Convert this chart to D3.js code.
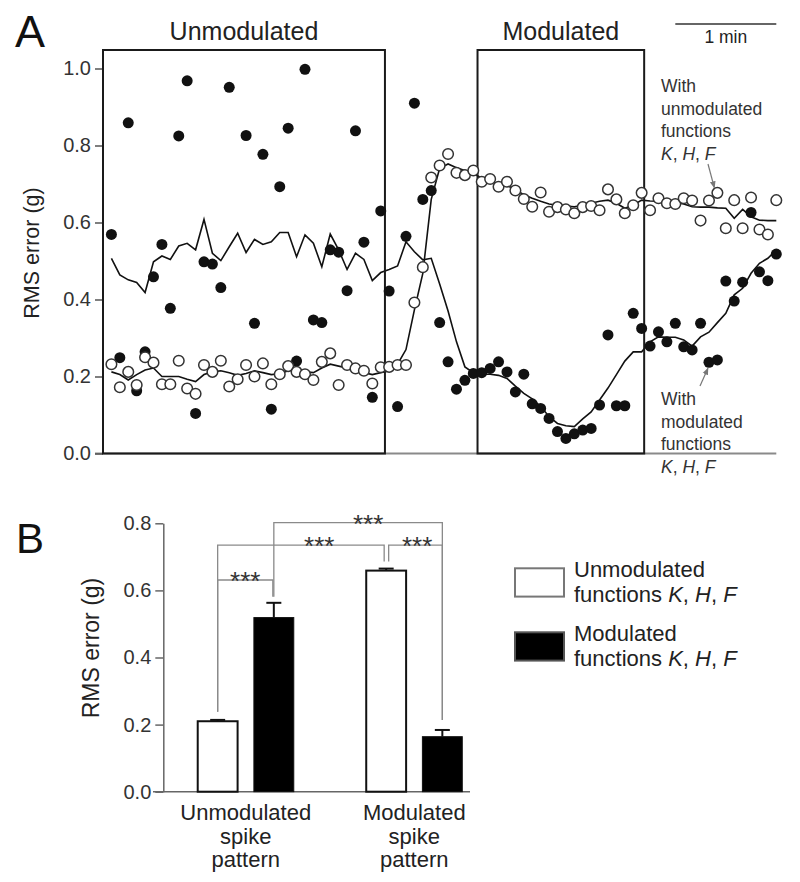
<!DOCTYPE html>
<html><head><meta charset="utf-8">
<script src="https://cdn.jsdelivr.net/npm/d3@7"></script>
<style>
body{margin:0;background:#fff;}
svg{display:block;font-family:"Liberation Sans",Arial,sans-serif;}
</style></head>
<body><svg id="c" width="800" height="882"></svg>
<script>
// ---------- Panel A data (samples every 5 s, i = 1..80) ----------
const sampleSec = 5;
const openPts = [0.232,0.172,0.212,0.178,0.250,0.236,0.180,0.180,0.241,0.169,
 0.155,0.230,0.212,0.241,0.174,0.193,0.230,0.200,0.234,0.180,
 0.206,0.227,0.212,0.206,0.191,0.238,0.260,0.178,0.230,0.221,
 0.215,0.182,0.224,0.225,0.230,0.230,0.392,0.484,0.717,0.748,
 0.778,0.729,0.723,0.735,0.706,0.713,0.693,0.706,0.683,0.661,
 0.641,0.678,0.628,0.640,0.634,0.624,0.640,0.643,0.632,0.686,
 0.660,0.624,0.645,0.677,0.632,0.663,0.650,0.648,0.663,0.657,
 0.605,0.657,0.677,0.585,0.658,0.585,0.665,0.582,0.569,0.658];
const filledPts = [0.569,0.249,0.859,0.163,0.264,0.459,0.543,0.377,0.825,0.968,
 0.104,0.498,0.492,0.431,0.951,null,0.826,0.338,0.777,0.115,
 0.693,0.845,0.240,0.998,0.347,0.340,0.529,0.523,0.423,0.838,
 0.549,0.146,0.630,0.422,0.122,0.564,0.910,0.660,0.683,0.340,
 0.238,0.167,0.190,0.208,0.210,0.221,0.238,0.212,0.160,0.206,
 0.129,0.117,0.091,0.057,0.039,0.051,0.061,0.065,0.126,0.308,
 0.124,0.124,0.364,0.325,0.279,0.316,0.290,0.338,0.277,0.269,
 0.338,0.237,0.243,0.448,0.396,0.445,0.626,0.472,0.449,0.518];
const openLine = [0.212,0.205,0.191,0.205,0.217,0.222,0.200,0.200,0.200,0.193,
 0.187,0.205,0.212,0.215,0.210,0.203,0.208,0.215,0.210,0.205,
 0.207,0.215,0.222,0.212,0.210,0.222,0.232,0.227,0.222,0.217,
 0.210,0.205,0.210,0.215,0.232,0.270,0.373,0.468,0.660,0.741,
 0.752,0.742,0.735,0.728,0.715,0.708,0.700,0.697,0.685,0.672,
 0.663,0.655,0.648,0.645,0.643,0.641,0.645,0.650,0.655,0.658,
 0.650,0.637,0.645,0.658,0.656,0.655,0.654,0.652,0.648,0.641,
 0.640,0.640,0.638,0.637,0.611,0.634,0.615,0.606,0.605,0.605];
const filledLine = [0.507,0.464,0.451,0.444,0.418,0.498,0.513,0.504,0.539,0.546,
 0.529,0.608,0.520,0.501,0.537,0.572,0.522,0.556,0.543,0.550,
 0.574,0.574,0.511,0.568,0.546,0.485,0.570,0.529,0.478,0.520,
 0.504,0.449,0.470,0.478,0.487,0.550,0.524,0.503,0.507,0.440,
 0.370,0.290,0.225,0.210,0.206,0.206,0.203,0.195,0.175,0.156,
 0.142,0.122,0.096,0.078,0.072,0.070,0.090,0.108,0.139,0.170,
 0.205,0.240,0.264,0.264,0.290,0.303,0.302,0.302,0.295,0.279,
 0.303,0.315,0.340,0.364,0.412,0.429,0.468,0.494,0.507,0.529];
const periods = [{label:"Unmodulated", start:0, end:167.5},{label:"Modulated", start:222.5, end:321.5}];
const scaleBarSec = [340, 400];
const yTicksA = [0,0.2,0.4,0.6,0.8,1.0];

// ---------- Panel B data ----------
const spikeCats = [["Unmodulated","spike","pattern"],["Modulated","spike","pattern"]];
const funcSeries = ["Unmodulated functions", "Modulated functions"];
const barMeans = [[0.210, 0.519],[0.659, 0.164]];
const barErrs  = [[0.004, 0.044],[0.006, 0.020]];
const yTicksB = [0,0.2,0.4,0.6,0.8];
const brackets = [
  {a:[0,0], b:[0,1], level:0.631, fa:0.238, fb:0.581, pos:0.5, dxa:0, dxb:-1},
  {a:[0,0], b:[1,0], level:0.735, fa:0.238, fb:0.686, pos:0.61, dxa:0, dxb:-2},
  {a:[1,0], b:[1,1], level:0.735, fa:0.686, fb:0.214, pos:0.53, dxa:2.5, dxb:0},
  {a:[0,1], b:[1,1], level:0.802, fa:0.581, fb:0.214, pos:0.56, dxa:0, dxb:0}
];
const sigLabel = "***";

const svg = d3.select("#c");
svg.append("rect").attr("width",800).attr("height",882).attr("fill","#fff");
const txt = "#222";

// ================= PANEL A =================
const x = d3.scaleLinear().domain([0,400]).range([103,776.3]);
const y = d3.scaleLinear().domain([0,1]).range([453.5,68.5]);
const boxTop = 50;
const gA = svg.append("g");

gA.append("text").attr("x",15).attr("y",47).attr("font-size",45).attr("fill","#111").text("A");

gA.append("line").attr("x1",x(0)-8).attr("x2",x(400)).attr("y1",y(0)).attr("y2",y(0))
  .attr("stroke","#8a8a8a").attr("stroke-width",2);

const axA = gA.append("g").attr("transform",`translate(${x(0)},0)`)
  .call(d3.axisLeft(y).tickValues(yTicksA).tickFormat(d3.format(".1f")).tickSize(8).tickPadding(4));
axA.select(".domain").remove();
axA.selectAll(".tick line").attr("stroke","#555").attr("stroke-width",1.5);
axA.selectAll(".tick text").attr("font-size",20).attr("fill","#333").attr("font-family","Liberation Sans, Arial, sans-serif");

gA.append("text").attr("transform",`translate(39,253) rotate(-90)`)
  .attr("text-anchor","middle").attr("font-size",21.5).attr("fill",txt).text("RMS error (g)");

const lineGen = d3.line().x((d,i)=>x((i+1)*sampleSec)).y(d=>y(d));
gA.append("path").attr("d",lineGen(filledLine)).attr("fill","none").attr("stroke","#111").attr("stroke-width",1.6);
gA.append("path").attr("d",lineGen(openLine)).attr("fill","none").attr("stroke","#111").attr("stroke-width",1.6);

periods.forEach(p=>{
  gA.append("rect").attr("x",x(p.start)).attr("y",boxTop).attr("width",x(p.end)-x(p.start))
    .attr("height",y(0)-boxTop).attr("fill","none").attr("stroke","#1a1a1a").attr("stroke-width",2);
  gA.append("text").attr("x",(x(p.start)+x(p.end))/2).attr("y",40).attr("text-anchor","middle")
    .attr("font-size",25).attr("fill",txt).text(p.label);
});

gA.selectAll(".fp").data(filledPts.map((v,i)=>({v,i})).filter(d=>d.v!==null))
  .join("circle").attr("class","fp").attr("cx",d=>x((d.i+1)*sampleSec)).attr("cy",d=>y(d.v)).attr("r",5.5).attr("fill","#111");
gA.selectAll(".op").data(openPts.map((v,i)=>({v,i})))
  .join("circle").attr("class","op").attr("cx",d=>x((d.i+1)*sampleSec)).attr("cy",d=>y(d.v)).attr("r",5.3)
  .attr("fill","#fff").attr("stroke","#333").attr("stroke-width",1.5);

gA.append("line").attr("x1",x(scaleBarSec[0])).attr("x2",x(scaleBarSec[1])).attr("y1",24).attr("y2",24)
  .attr("stroke","#333").attr("stroke-width",1.5);
gA.append("text").attr("x",(x(scaleBarSec[0])+x(scaleBarSec[1]))/2).attr("y",43).attr("text-anchor","middle")
  .attr("font-size",17.5).attr("fill",txt).text("1 min");

svg.append("defs").append("marker").attr("id","ah").attr("viewBox","0 0 10 10").attr("refX",9).attr("refY",5)
  .attr("markerWidth",6).attr("markerHeight",6).attr("orient","auto")
  .append("path").attr("d","M0,1 L10,5 L0,9 z").attr("fill","#777");
function annot(x0, y0, lines){
  const t = gA.append("text").attr("font-size",17.5).attr("fill","#333");
  lines.forEach((l,k)=>{
    const ts = t.append("tspan").attr("x",x0).attr("y",y0+k*22.7);
    if(l==="KHF"){
      ts.append("tspan").attr("font-style","italic").text("K");
      ts.append("tspan").text(", ");
      ts.append("tspan").attr("font-style","italic").text("H");
      ts.append("tspan").text(", ");
      ts.append("tspan").attr("font-style","italic").text("F");
    } else ts.text(l);
  });
}
annot(661, 92, ["With","unmodulated","functions","KHF"]);
annot(661, 405, ["With","modulated","functions","KHF"]);
gA.append("line").attr("x1",708).attr("y1",164).attr("x2",x(73*sampleSec)-3).attr("y2",y(openPts[72])-5)
  .attr("stroke","#777").attr("stroke-width",1.2).attr("marker-end","url(#ah)");
gA.append("line").attr("x1",700).attr("y1",386).attr("x2",x(72*sampleSec)-1).attr("y2",y(filledPts[71])+6)
  .attr("stroke","#777").attr("stroke-width",1.2).attr("marker-end","url(#ah)");

// ================= PANEL B =================
const gB = svg.append("g");
gB.append("text").attr("x",16).attr("y",553).attr("font-size",42).attr("fill","#111").text("B");
const yB = d3.scaleLinear().domain([0,0.8]).range([791.7,523.3]);
const x0 = d3.scaleBand().domain([0,1]).range([177.5,482.5]).paddingInner(0.43).paddingOuter(0.12);
const x1 = d3.scaleBand().domain([0,1]).range([0,x0.bandwidth()]).paddingInner(0.29);
const bx = (g,s)=>x0(g)+x1(s)+x1.bandwidth()/2;

gB.append("line").attr("x1",153).attr("x2",470).attr("y1",yB(0)).attr("y2",yB(0)).attr("stroke","#666").attr("stroke-width",1.5);
const axB = gB.append("g").attr("transform","translate(163.3,0)")
  .call(d3.axisLeft(yB).tickValues(yTicksB).tickFormat(d3.format(".1f")).tickSize(8).tickPadding(4).tickSizeOuter(0));
axB.select(".domain").attr("stroke","#666").attr("stroke-width",1.5);
axB.selectAll(".tick line").attr("stroke","#666").attr("stroke-width",1.5);
axB.selectAll(".tick text").attr("font-size",20).attr("fill","#333").attr("font-family","Liberation Sans, Arial, sans-serif");
gB.append("text").attr("transform",`translate(99,648) rotate(-90)`).attr("text-anchor","middle")
  .attr("font-size",23).attr("fill",txt).text("RMS error (g)");

barMeans.forEach((row,g)=>row.forEach((v,s)=>{
  const cx = bx(g,s);
  const top = yB(v+barErrs[g][s]);
  gB.append("line").attr("x1",cx).attr("x2",cx).attr("y1",yB(v)).attr("y2",top).attr("stroke","#111").attr("stroke-width",2);
  gB.append("line").attr("x1",cx-7.5).attr("x2",cx+7.5).attr("y1",top).attr("y2",top).attr("stroke","#111").attr("stroke-width",2);
  gB.append("rect").attr("x",x0(g)+x1(s)).attr("y",yB(v)).attr("width",x1.bandwidth()).attr("height",yB(0)-yB(v))
    .attr("fill",s===0?"#fff":"#000").attr("stroke","#111").attr("stroke-width",s===0?2:1);
}));

brackets.forEach(b=>{
  const xa = bx(b.a[0],b.a[1])+b.dxa, xb = bx(b.b[0],b.b[1])+b.dxb, yl = yB(b.level);
  gB.append("path").attr("d",`M${xa},${yB(b.fa)}V${yl}H${xb}V${yB(b.fb)}`)
    .attr("fill","none").attr("stroke","#8a8a8a").attr("stroke-width",1.3);
  gB.append("text").attr("x",xa+(xb-xa)*b.pos).attr("y",yl+10).attr("text-anchor","middle")
    .attr("font-size",26).attr("fill","#333").text(sigLabel);
});

spikeCats.forEach((lines,g)=>{
  const t = gB.append("text").attr("text-anchor","middle").attr("font-size",22).attr("fill",txt);
  lines.forEach((l,k)=>t.append("tspan").attr("x",x0(g)+x0.bandwidth()/2).attr("y",820+k*23.5).text(l));
});

funcSeries.forEach((name,s)=>{
  const yy = 568.3 + s*64;
  gB.append("rect").attr("x",515).attr("y",yy).attr("width",49).attr("height",28.3)
    .attr("fill",s===0?"#fff":"#000").attr("stroke",s===0?"#777":"#555").attr("stroke-width",2);
  const t = gB.append("text").attr("font-size",22).attr("fill",txt);
  t.append("tspan").attr("x",574).attr("y",yy+8.5).text(name.split(" ")[0]);
  const l2 = t.append("tspan").attr("x",574).attr("y",yy+34);
  l2.append("tspan").text("functions ");
  l2.append("tspan").attr("font-style","italic").text("K");
  l2.append("tspan").text(", ");
  l2.append("tspan").attr("font-style","italic").text("H");
  l2.append("tspan").text(", ");
  l2.append("tspan").attr("font-style","italic").text("F");
});
</script></body></html>
